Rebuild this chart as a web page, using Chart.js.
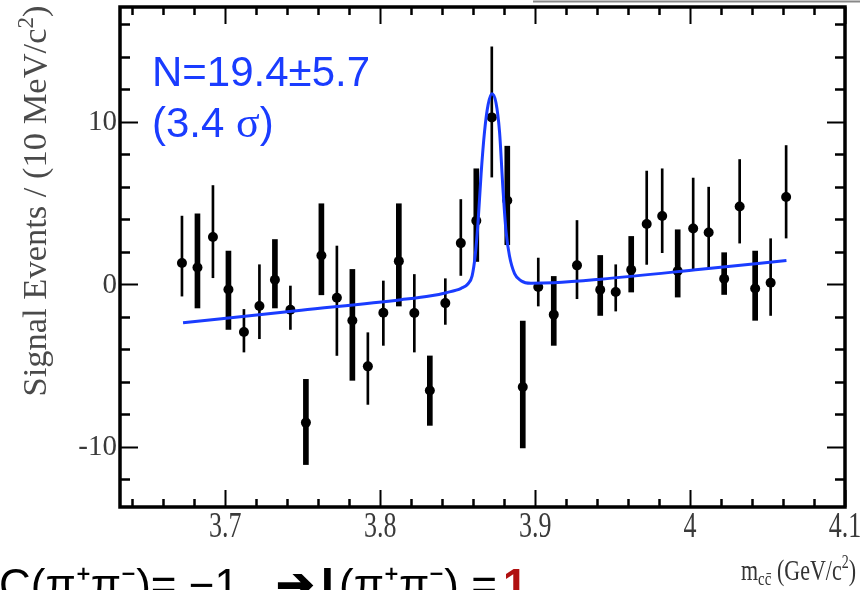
<!DOCTYPE html>
<html>
<head>
<meta charset="utf-8">
<script src="https://cdn.jsdelivr.net/npm/chart.js@4.4.1/dist/chart.umd.min.js"></script>
<style>
  html, body { margin: 0; padding: 0; background: #fff; }
  #wrap { width: 860px; height: 590px; }
</style>
</head>
<body>
<div id="wrap"><canvas id="c" width="860" height="590"></canvas></div>
<script>
// points drawn with thin error bars (mass in GeV/c^2, signal events)
const massThin = [3.672, 3.692, 3.712, 3.722, 3.742, 3.772, 3.792, 3.802, 3.822, 3.842, 3.852, 3.872,
  3.902, 3.927, 3.952, 3.972, 3.982, 4.002, 4.012, 4.032, 4.052, 4.062];
const yieldThin = [1.31, 2.90, -2.94, -1.34, -1.57, -0.83, -5.05, -1.75, -1.77, -1.16, 2.53, 10.26,
  -0.17, 1.16, -0.48, 3.70, 4.20, 3.43, 3.18, 4.78, 0.09, 5.36];
const highThin = [4.19, 6.07, -1.55, 1.20, -0.11, 2.35, -2.98, 0.20, 0.60, 0.34, 5.21, 14.6,
  1.61, 3.92, 1.20, 6.96, 7.10, 6.53, 5.97, 7.67, 2.80, 8.53];
const lowThin = [-0.73, 0.40, -4.17, -3.35, -2.78, -4.38, -7.39, -3.76, -4.17, -2.47, 0.54, 6.59,
  -1.34, -0.89, -1.65, 1.22, 1.94, 0.91, 0.95, 2.53, -1.92, 2.84];

// points drawn with thick error bars
const massThick = [3.682, 3.702, 3.732, 3.752, 3.762, 3.782, 3.812, 3.832, 3.862, 3.882, 3.892,
  3.912, 3.942, 3.962, 3.992, 4.022, 4.042];
const yieldThick = [1.03, -0.32, 0.28, -8.51, 1.77, -2.23, 1.42, -6.53, 3.90, 5.15, -6.32,
  -1.87, -0.34, 0.89, 0.81, 0.34, -0.26];
const highThick = [4.33, 2.04, 2.75, -5.85, 4.95, 0.91, 4.95, -4.41, 7.10, 8.49, -2.26,
  0.48, 1.77, 2.94, 3.35, 1.94, 2.04];
const lowThick = [-1.46, -2.78, -1.46, -11.09, -0.65, -5.91, -1.34, -8.68, 1.40, 2.43, -10.07,
  -3.76, -1.92, -0.48, -0.79, -0.63, -2.22];

// fit curve
const fitMass = [3.6727, 3.749, 3.8135, 3.8328, 3.8425, 3.8522, 3.8567, 3.8593, 3.8612, 3.8631,
  3.8651, 3.8673, 3.8696, 3.8721, 3.8747, 3.877, 3.8792, 3.8812, 3.8834, 3.8867, 3.8908,
  3.8973, 3.9121, 3.9424, 4.0069, 4.0622];
const fitYield = [-2.37, -1.60, -0.95, -0.71, -0.52, -0.25, 0.03, 0.52, 1.69, 3.78,
  6.79, 9.37, 11.03, 11.71, 11.16, 9.37, 5.87, 3.23, 1.75, 0.65, 0.22,
  0.06, 0.09, 0.31, 0.92, 1.46];

// axes
const xRange = [3.632, 4.1];
const yRange = [-13.7, 17.05];
const xMajor = [3.7, 3.8, 3.9, 4.0, 4.1];
const xTickLabels = ["3.7", "3.8", "3.9", "4", "4.1"];
const xMinorStep = 0.02;
const yMajor = [10, 0, -10];
const yTickLabels = ["10", "0", "-10"];
const yMinorStep = 2;

const fitLabel = ["N=19.4\u00b15.7", "(3.4 ", "\u03c3", ")"];

const BLUE = "#1a3cff";
const SERIF = '"Liberation Serif", "DejaVu Serif", serif';
const SANS = '"Liberation Sans", Arial, sans-serif';

function points(mass, vals) {
  return mass.map((m, i) => ({ x: m, y: vals[i] }));
}
function bars(mass, lo, hi) {
  return mass.map((m, i) => ({ x: m, y: [lo[i], hi[i]] }));
}

// draws a row of text runs; runs = [{t, font, dy, color}]
function drawRuns(ctx, runs, x, y, align) {
  let total = 0;
  for (const r of runs) { ctx.font = r.font; total += ctx.measureText(r.t).width; }
  let cx = align === "center" ? x - total / 2 : align === "right" ? x - total : x;
  ctx.textAlign = "left";
  for (const r of runs) {
    ctx.font = r.font;
    if (r.color) ctx.fillStyle = r.color;
    ctx.fillText(r.t, cx, y + (r.dy || 0));
    cx += ctx.measureText(r.t).width;
  }
}

const framePlugin = {
  id: "frame",
  afterDatasetsDraw(chart) {
    const { ctx, chartArea: a, scales } = chart;
    const xs = scales.x, ys = scales.y;
    ctx.save();
    ctx.strokeStyle = "#000";
    ctx.lineCap = "butt";

    // x ticks, bottom and top, pointing inward
    const nx = Math.round((xRange[1] - 3.64) / xMinorStep);
    for (let k = 0; k <= nx; k++) {
      const v = 3.64 + k * xMinorStep;
      const major = xMajor.some((m) => Math.abs(m - v) < 1e-6);
      const px = Math.round(xs.getPixelForValue(v)) + 0.5;
      const len = major ? 17 : 8;
      ctx.lineWidth = major ? 2 : 2.5;
      ctx.beginPath();
      ctx.moveTo(px, a.bottom); ctx.lineTo(px, a.bottom - len);
      ctx.moveTo(px, a.top); ctx.lineTo(px, a.top + len);
      ctx.stroke();
    }
    // y ticks, left and right
    for (let v = -12; v <= 16; v += yMinorStep) {
      const major = yMajor.includes(v);
      const py = Math.round(ys.getPixelForValue(v)) + 0.5;
      const len = major ? 18 : 10;
      ctx.lineWidth = major ? 2 : 2.5;
      ctx.beginPath();
      ctx.moveTo(a.left, py); ctx.lineTo(a.left + len, py);
      ctx.moveTo(a.right, py); ctx.lineTo(a.right - len, py);
      ctx.stroke();
    }
    // frame
    ctx.lineWidth = 3.5;
    ctx.strokeRect(a.left, a.top, a.right - a.left, a.bottom - a.top);

    // tick labels
    ctx.fillStyle = "#3a3a3a";
    ctx.textBaseline = "middle";
    ctx.font = "26px " + SERIF;
    ctx.textAlign = "center";
    xMajor.forEach((v, i) => {
      ctx.save();
      ctx.translate(xs.getPixelForValue(v), a.bottom + 20);
      ctx.scale(1, 1.4);
      ctx.fillText(xTickLabels[i], 0, 0);
      ctx.restore();
    });
    ctx.font = "29px " + SERIF;
    ctx.textAlign = "right";
    yMajor.forEach((v, i) => {
      ctx.fillText(yTickLabels[i], a.left - 3, ys.getPixelForValue(v) + 1);
    });

    // y title
    ctx.save();
    ctx.fillStyle = "#4a4a4a";
    ctx.translate(37, 201);
    ctx.rotate(-Math.PI / 2);
    ctx.textBaseline = "middle";
    drawRuns(ctx, [
      { t: "Signal Events / (10 MeV/c", font: "34.5px " + SERIF },
      { t: "2", font: "23px " + SERIF, dy: -10 },
      { t: ")", font: "34.5px " + SERIF },
    ], 0, 0, "center");
    ctx.restore();

    // x title, slightly stretched like the tick labels
    ctx.save();
    ctx.fillStyle = "#333";
    ctx.textBaseline = "alphabetic";
    ctx.translate(0, a.bottom + 73);
    ctx.scale(1, 1.3);
    drawRuns(ctx, [
      { t: "m", font: "22px " + SERIF },
      { t: "cc\u0304", font: "15px " + SERIF, dy: 4 },
      { t: " (GeV/c", font: "22px " + SERIF },
      { t: "2", font: "14px " + SERIF, dy: -9 },
      { t: ")", font: "22px " + SERIF },
    ], 856, 0, "right");
    ctx.restore();

    // fit result
    ctx.fillStyle = BLUE;
    ctx.textBaseline = "alphabetic";
    ctx.font = "42px " + SANS;
    ctx.textAlign = "left";
    ctx.fillText(fitLabel[0], 152, 86);
    drawRuns(ctx, [
      { t: fitLabel[1], font: "42px " + SANS },
      { t: fitLabel[2], font: "44px " + SERIF },
      { t: fitLabel[3], font: "42px " + SANS },
    ], 152, 137, "left");

    ctx.restore();
  },
  afterDraw(chart) {
    const { ctx } = chart;
    ctx.save();
    // slide leftovers: rule at top right, clipped caption at the bottom
    ctx.strokeStyle = "#888";
    ctx.lineWidth = 2;
    ctx.beginPath();
    ctx.moveTo(533, 1.5); ctx.lineTo(860, 1.5);
    ctx.stroke();
    ctx.textBaseline = "alphabetic";
    ctx.textAlign = "left";
    ctx.fillStyle = "#000";
    ctx.font = "44px " + SANS;
    ctx.fillText("C(\u03c0\u207a\u03c0\u207b)= \u22121", -1, 600);
    ctx.font = "bold 46px " + SANS;
    ctx.fillText("\u2794", 276, 600);
    ctx.fillText("I", 321, 600);
    ctx.font = "44px " + SANS;
    ctx.fillText("(\u03c0\u207a\u03c0\u207b) =", 339, 600);
    ctx.font = "bold 44px " + SANS;
    ctx.fillStyle = "#b01010";
    ctx.fillText("1", 503, 600);
    ctx.restore();
  },
};

new Chart(document.getElementById("c"), {
  type: "scatter",
  data: {
    datasets: [
      {
        type: "line",
        label: "fit",
        data: points(fitMass, fitYield),
        borderColor: BLUE,
        borderWidth: 3,
        pointRadius: 0,
        cubicInterpolationMode: "monotone",
        fill: false,
        order: 0,
      },
      {
        label: "data",
        data: points(massThin, yieldThin).concat(points(massThick, yieldThick)),
        pointRadius: 5,
        pointBackgroundColor: "#000",
        pointBorderWidth: 0,
        order: 1,
      },
      {
        type: "bar",
        label: "err thin",
        data: bars(massThin, lowThin, highThin),
        backgroundColor: "#000",
        borderWidth: 0,
        barThickness: 2,
        grouped: false,
        order: 2,
      },
      {
        type: "bar",
        label: "err thick",
        data: bars(massThick, lowThick, highThick),
        backgroundColor: "#000",
        borderWidth: 0,
        barThickness: 5,
        grouped: false,
        order: 3,
      },
    ],
  },
  options: {
    responsive: false,
    animation: false,
    layout: { padding: { left: 120, right: 15, top: 7, bottom: 83 } },
    plugins: { legend: { display: false }, tooltip: { enabled: false } },
    scales: {
      x: { type: "linear", min: xRange[0], max: xRange[1], offset: false, display: false },
      y: { type: "linear", min: yRange[0], max: yRange[1], display: false },
    },
  },
  plugins: [framePlugin],
});
</script>
</body>
</html>
